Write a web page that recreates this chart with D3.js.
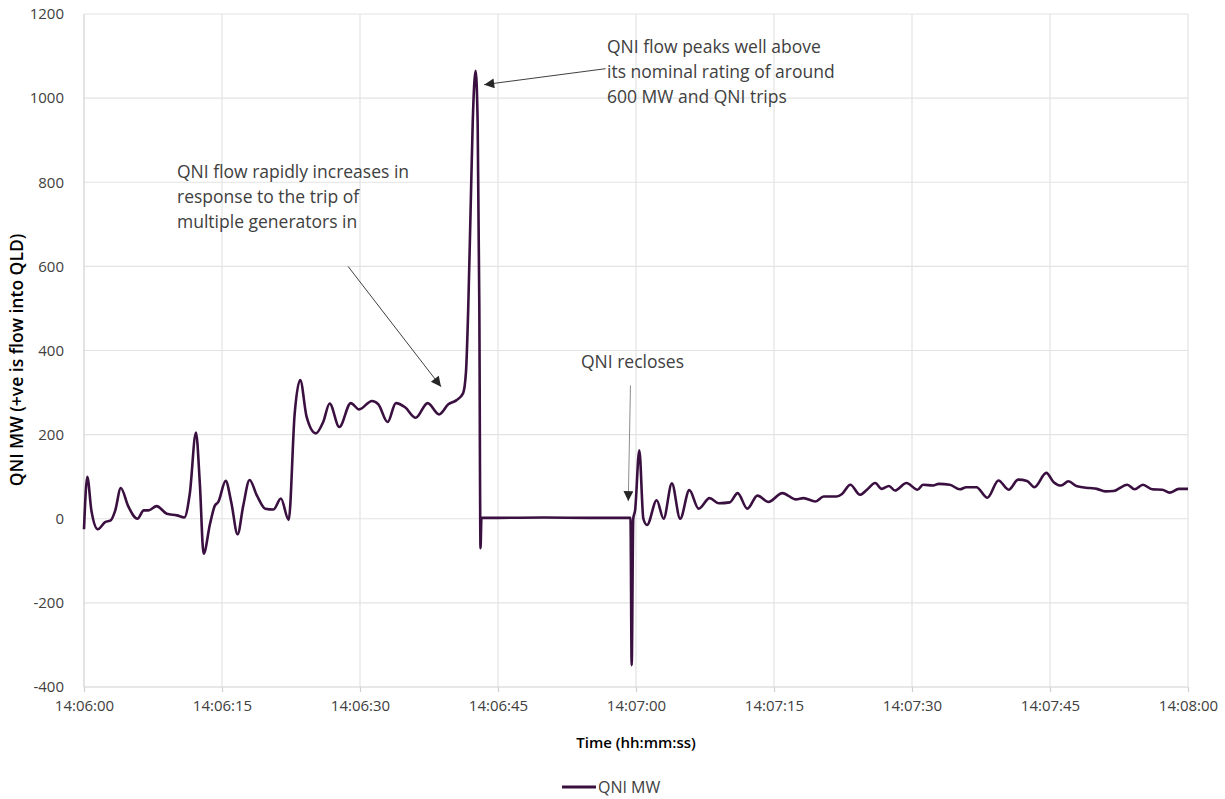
<!DOCTYPE html>
<html>
<head>
<meta charset="utf-8">
<script src="https://cdn.jsdelivr.net/npm/d3@7"></script>
<style>
  html, body { margin: 0; padding: 0; background: #ffffff; }
  svg { display: block; font-family: "Open Sans", "Noto Sans", sans-serif; }
</style>
</head>
<body>
<svg id="chart" width="1225" height="799"></svg>
<script>
// ---- data (seconds after 14:06:00, MW) ----
const seconds = [
  0, 0.36, 0.8, 1.5, 2.3, 2.9, 3.4, 4.0, 4.8, 5.8, 6.5, 7.0, 7.9, 9.0, 10.1, 10.9,
  11.5, 12.17, 12.6, 13.0, 13.7, 14.2, 14.6, 15.4, 16.0, 16.7, 17.3, 18.0, 18.8, 19.7,
  20.6, 21.4, 22.25, 22.9, 23.5, 24.2, 25.2, 26.0, 26.7, 27.75, 29.0, 29.9, 31.3, 32.0,
  33.0, 33.9, 34.9, 36.05, 37.35, 38.6, 39.6, 40.5, 41.2, 41.52, 41.77, 42.03, 42.25,
  42.57, 42.79, 42.97, 43.1, 43.2, 45, 50, 55, 59.4, 59.53, 59.7, 59.9, 60.36, 60.8,
  61.2, 62.25, 63.0, 63.9, 64.8, 65.8, 66.8, 68.0, 69.0, 70.2, 71.05, 72.1, 73.2, 74.4,
  75.9, 77.4, 78.2, 79.5, 80.4, 81.8, 82.4, 83.3, 84.35, 85.1, 86.0, 86.7, 87.5, 88.15,
  89.4, 90.6, 91.2, 92.3, 92.9, 94.1, 95.2, 95.9, 97.0, 98.2, 99.4, 100.5, 101.55, 102.5,
  103.3, 104.6, 105.4, 106.2, 107.0, 107.95, 109.3, 110.1, 111.0, 111.9, 113.4, 114.2,
  115.1, 116.1, 117.2, 118.0, 119.0, 120
];
const qniMW = [
  -25, 100, 20, -25, -8, -4, 20, 73, 30, 0, 20, 20, 30, 12, 8, 3,
  60, 205, 80, -83, -12, 30, 40, 90, 40, -37, 30, 92, 55, 24,
  22, 48, -3, 250, 330, 242, 203, 230, 274, 218, 275, 260, 280, 272,
  230, 275, 265, 240, 275, 248, 272, 282, 298, 349, 505, 741, 940,
  1065, 940, 505, -70, 2, 2, 3, 2, 2, -348, 0, 20, 163, 0,
  -15, 44, 0, 84, 0, 68, 24, 49, 37, 39, 61, 24, 55, 40,
  61, 46, 49, 41, 53, 53, 59, 81, 57, 69, 85, 71, 78, 67,
  85, 69, 81, 79, 83, 81, 70, 75, 75, 50, 91, 69, 93, 90,
  75, 109, 87, 79, 89, 77, 73, 71, 65, 66, 81, 70,
  81, 70, 69, 62, 71, 71
];
const yTicks = [-400, -200, 0, 200, 400, 600, 800, 1000, 1200];
const xTickSeconds = [0, 15, 30, 45, 60, 75, 90, 105, 120];
const xTickLabels = ["14:06:00", "14:06:15", "14:06:30", "14:06:45", "14:07:00", "14:07:15", "14:07:30", "14:07:45", "14:08:00"];
const seriesName = "QNI MW";
const yTitle = "QNI MW (+ve is flow into QLD)";
const xTitle = "Time (hh:mm:ss)";
const annotations = [
  { lines: ["QNI flow peaks well above", "its nominal rating of around", "600 MW and QNI trips"], fromT: 56.7, fromV: 1070, toT: 43.5, toV: 1032, grey: false },
  { lines: ["QNI flow rapidly increases in", "response to the trip of", "multiple generators in"], fromT: 28.7, fromV: 600, toT: 38.8, toV: 314, grey: false },
  { lines: ["QNI recloses"], fromT: 59.4, fromV: 317, toT: 59.16, toV: 42, grey: true }
];

// ---- layout ----
const svg = d3.select("#chart");
const mLeft = 84, mRight = 1188, mTop = 14, mBottom = 687;
const base = new Date(2000, 0, 1, 14, 6, 0);
const toDate = s => new Date(base.getTime() + s * 1000);

const x = d3.scaleTime().domain([toDate(0), toDate(120)]).range([mLeft, mRight]);
const y = d3.scaleLinear().domain([-400, 1200]).range([mBottom, mTop]);

// gridlines
svg.append("g").selectAll("line").data(yTicks).join("line")
  .attr("x1", mLeft).attr("x2", mRight)
  .attr("y1", d => y(d)).attr("y2", d => y(d))
  .attr("stroke", d => d === -400 ? "#d0d0d0" : "#e3e3e3").attr("stroke-width", 1.2);
svg.append("g").selectAll("line").data(xTickSeconds).join("line")
  .attr("x1", d => x(toDate(d))).attr("x2", d => x(toDate(d)))
  .attr("y1", mTop).attr("y2", mBottom)
  .attr("stroke", d => d === 0 ? "#d0d0d0" : "#e3e3e3").attr("stroke-width", 1.2);

// x axis
const xAxis = d3.axisBottom(x)
  .tickValues(xTickSeconds.map(toDate))
  .tickFormat((d, i) => xTickLabels[i])
  .tickSize(5).tickPadding(8);
const gx = svg.append("g").attr("transform", `translate(0,${mBottom})`).call(xAxis);
gx.select(".domain").remove();
gx.selectAll(".tick line").attr("stroke", "#d0d0d0").attr("stroke-width", 1.2);
gx.selectAll(".tick text").attr("fill", "#404040").style("font-size", "15px")
  .style("font-family", "'Open Sans', sans-serif");

// y axis
const yAxis = d3.axisLeft(y).tickValues(yTicks).tickFormat(d => String(d)).tickSize(0).tickPadding(20);
const gy = svg.append("g").attr("transform", `translate(${mLeft},0)`).call(yAxis);
gy.select(".domain").remove();
gy.selectAll(".tick text").attr("fill", "#404040").style("font-size", "15px")
  .style("font-family", "'Open Sans', sans-serif");

// axis titles
svg.append("text").attr("x", (mLeft + mRight) / 2).attr("y", 748)
  .attr("text-anchor", "middle").attr("fill", "#000").style("font-size", "15px")
  .style("font-weight", "600").text(xTitle);
svg.append("text").attr("transform", `translate(23,360) rotate(-90)`)
  .attr("text-anchor", "middle").attr("fill", "#000").style("font-size", "17.5px")
  .style("font-weight", "600").text(yTitle);

// series line
const data = seconds.map((s, i) => ({ t: toDate(s), v: qniMW[i] }));
const line = d3.line().x(d => x(d.t)).y(d => y(d.v)).curve(d3.curveMonotoneX);
svg.append("path").datum(data).attr("d", line)
  .attr("fill", "none").attr("stroke", "#3a1040").attr("stroke-width", 2.6)
  .attr("stroke-linejoin", "round");

// annotations
const defs = svg.append("defs");
defs.append("marker").attr("id", "arrow").attr("viewBox", "0 0 10 10")
  .attr("refX", 10).attr("refY", 5).attr("markerWidth", 14).attr("markerHeight", 10)
  .attr("markerUnits", "userSpaceOnUse").attr("orient", "auto")
  .append("path").attr("d", "M0,0 L10,5 L0,10 z").attr("fill", "#262626");

const textPos = [
  { x: 607, y: 53 },
  { x: 177, y: 178 },
  { x: 632.5, y: 368, anchor: "middle" }
];
annotations.forEach((a, i) => {
  const p = textPos[i];
  const t = svg.append("text").attr("fill", "#404040").style("font-size", "17.5px")
    .attr("text-anchor", p.anchor || "start");
  a.lines.forEach((ln, j) => {
    t.append("tspan").attr("x", p.x).attr("y", p.y + j * 25).text(ln);
  });
  svg.append("line")
    .attr("x1", x(toDate(a.fromT))).attr("y1", y(a.fromV))
    .attr("x2", x(toDate(a.toT))).attr("y2", y(a.toV))
    .attr("stroke", a.grey ? "#8c8c8c" : "#404040").attr("stroke-width", 1)
    .attr("marker-end", "url(#arrow)");
});

// legend
const lg = svg.append("g").attr("transform", "translate(562,787)");
lg.append("line").attr("x1", 0).attr("x2", 34).attr("y1", 0).attr("y2", 0)
  .attr("stroke", "#3a1040").attr("stroke-width", 3);
lg.append("text").attr("x", 36).attr("y", 6).attr("fill", "#404040")
  .style("font-size", "16px").text(seriesName);
</script>
</body>
</html>
